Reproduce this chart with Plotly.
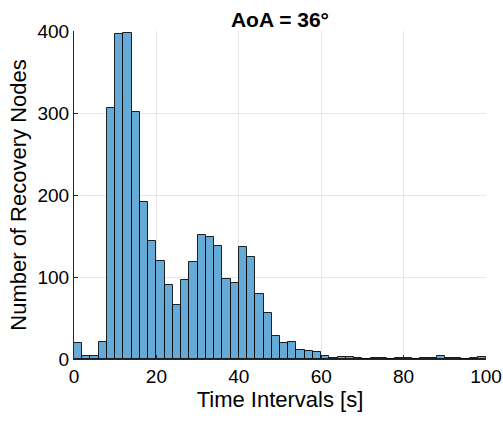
import plotly.graph_objects as go

bin_edges = list(range(0, 102, 2))
counts = [20, 4, 4, 21, 306, 396, 397, 301, 192, 144,
          120, 90, 66, 96, 118, 151, 149, 138, 97, 93,
          137, 124, 79, 56, 28, 20, 21, 11, 10, 8,
          4, 1, 2, 2, 1, 0, 1, 1, 0, 1,
          1, 0, 1, 1, 4, 1, 1, 0, 1, 2]
x_ticks = [0, 20, 40, 60, 80, 100]
y_ticks = [0, 100, 200, 300, 400]

centers = [(bin_edges[i] + bin_edges[i + 1]) / 2 for i in range(len(counts))]
widths = [bin_edges[i + 1] - bin_edges[i] for i in range(len(counts))]

fig = go.Figure(go.Bar(
    x=centers, y=counts, width=widths,
    marker=dict(color="rgb(102,170,215)", line=dict(color="rgba(0,0,0,0.85)", width=1)),
))

font_family = "Liberation Sans, Arial, Helvetica, sans-serif"
fig.update_layout(
    width=503, height=423,
    margin=dict(l=74, r=17, t=31, b=64, autoexpand=False),
    paper_bgcolor="white", plot_bgcolor="white",
    showlegend=False, bargap=0,
    font=dict(family=font_family, size=20, color="black"),
    title=dict(text="<b>AoA = 36°</b>", x=0.5, xanchor="center", xref="paper",
               y=1, yref="paper", yanchor="bottom", pad=dict(b=4),
               font=dict(size=21, family=font_family, color="black")),
)
fig.update_xaxes(
    range=[0, 100], tickvals=x_ticks, ticks="inside", ticklen=4, tickcolor="#262626",
    showline=True, linecolor="#262626", linewidth=1, automargin=False,
    showgrid=True, gridcolor="#e6e6e6", gridwidth=1, zeroline=False,
    title=dict(text="Time Intervals [s]", font=dict(size=22), standoff=0),
    tickfont=dict(size=19),
)
fig.update_yaxes(
    range=[0, 400], tickvals=y_ticks, ticks="inside", ticklen=4, tickcolor="#262626",
    showline=True, linecolor="#262626", linewidth=1, automargin=False,
    showgrid=True, gridcolor="#e6e6e6", gridwidth=1, zeroline=False,
    title=dict(text="Number of Recovery Nodes", font=dict(size=22), standoff=4),
    tickfont=dict(size=19),
)
fig.write_html("out.html")
